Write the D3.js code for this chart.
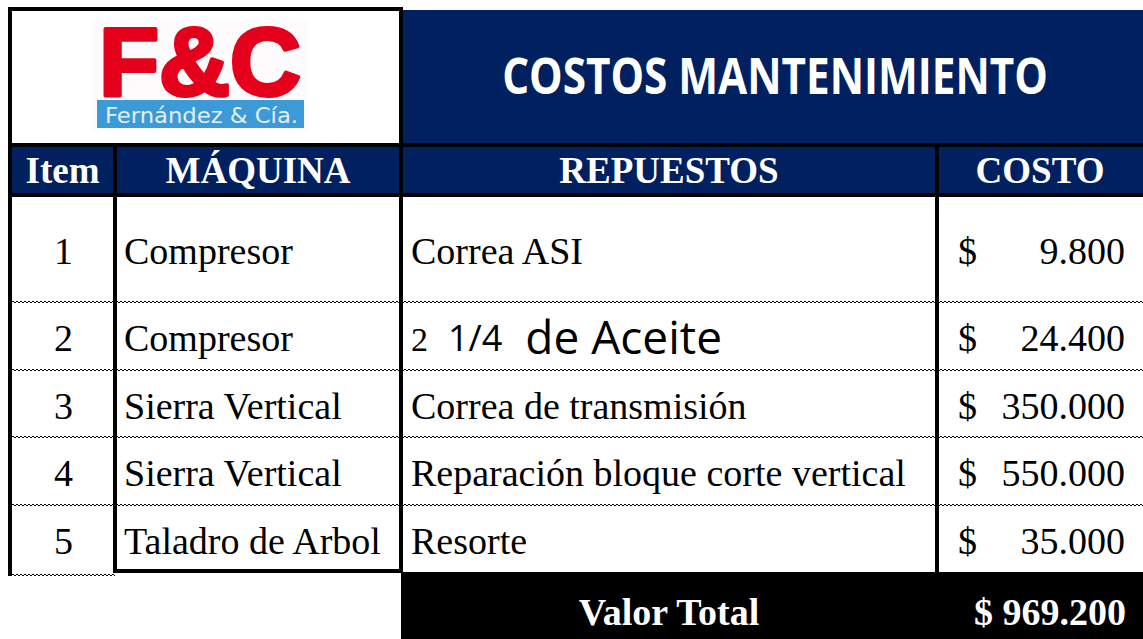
<!DOCTYPE html>
<html><head><meta charset="utf-8">
<script src="https://cdn.jsdelivr.net/npm/d3@7"></script>
<style>html,body{margin:0;padding:0;background:#fff;overflow:hidden}</style>
</head><body>
<svg id="c" width="1143" height="639"></svg>
<script>
// ---- data ----
const title = "COSTOS MANTENIMIENTO";
const logoMain = "F&C";
const logoSub = "Fernández & Cía.";
const headers = ["Item", "MÁQUINA", "REPUESTOS", "COSTO"];
const items = [1, 2, 3, 4, 5];
const machines = ["Compresor", "Compresor", "Sierra Vertical", "Sierra Vertical", "Taladro de Arbol"];
const parts = ["Correa ASI", "2 1/4 de Aceite", "Correa de transmisión", "Reparación bloque corte vertical", "Resorte"];
const costs = [9800, 24400, 350000, 550000, 35000];
const totalLabel = "Valor Total";

// ---- layout ----
const W = 1143, H = 639;
const BLUE = "#002060";
const colEdges = [10, 115, 401, 937, 1143];
const rowHeights = [107, 68, 67, 68, 67];
const bodyTop = 195;

const locale = d3.formatLocale({decimal: ",", thousands: ".", grouping: [3], currency: ["$", ""]});
const fmt = locale.format(",d");
const total = d3.sum(costs);

// row scale: index -> top edge
const rowTops = rowHeights.reduce((a, h, i) => { a.push(a[i] + h); return a; }, [bodyTop]);
const yTop = d3.scaleOrdinal().domain(d3.range(rowTops.length)).range(rowTops);
const xCol = d3.scaleOrdinal().domain(d3.range(colEdges.length)).range(colEdges);
const bodyBottom = yTop(items.length);

const svg = d3.select("#c");
svg.append("rect").attr("width", W).attr("height", H).attr("fill", "#fff");

// title block
svg.append("rect").attr("x", xCol(2)).attr("y", 10).attr("width", W - xCol(2)).attr("height", 135).attr("fill", BLUE);
svg.append("text").text(title)
  .attr("transform", `translate(${(xCol(2) + W) / 2 + 3},94) scale(0.845,1)`)
  .attr("text-anchor", "middle")
  .attr("font-family", "'Open Sans', sans-serif").attr("font-weight", 700).attr("font-size", 50)
  .attr("fill", "#fff");

// header row
svg.append("rect").attr("x", xCol(0)).attr("y", 145).attr("width", W - xCol(0)).attr("height", 50).attr("fill", BLUE);
// total row
svg.append("rect").attr("x", xCol(2)).attr("y", bodyBottom).attr("width", W - xCol(2)).attr("height", H - bodyBottom).attr("fill", "#000");

// logo
svg.append("rect").attr("x", 92).attr("y", 20).attr("width", 216).attr("height", 113).attr("fill", "#fdfbfb");
svg.append("rect").attr("x", 97).attr("y", 100).attr("width", 207).attr("height", 28).attr("fill", "#3c9ad6");
svg.append("text").text(logoMain)
  .attr("x", 99).attr("y", 95)
  .attr("font-family", "'Liberation Sans', Arial, sans-serif").attr("font-weight", 700).attr("font-size", 96)
  .attr("textLength", 202).attr("lengthAdjust", "spacingAndGlyphs")
  .attr("fill", "#e4001b").attr("stroke", "#e4001b").attr("stroke-width", 4).attr("stroke-linejoin", "round");
svg.append("text").text(logoSub)
  .attr("x", 105).attr("y", 123)
  .attr("font-family", "'DejaVu Sans', sans-serif").attr("font-size", 22)
  .attr("textLength", 193).attr("lengthAdjust", "spacingAndGlyphs")
  .attr("fill", "#e3eff8");

// dotted separators
const dotted = (x1, x2, y) => {
  [[y - 0.5, 0], [y + 0.5, 2]].forEach(([yy, off]) => {
    svg.append("line").attr("x1", x1).attr("x2", x2).attr("y1", yy).attr("y2", yy)
      .attr("stroke", "#000").attr("stroke-width", 1)
      .attr("stroke-dasharray", "2,2").attr("stroke-dashoffset", off)
      .attr("shape-rendering", "crispEdges");
  });
};
d3.range(1, items.length).forEach(i => dotted(8, W, yTop(i)));
dotted(8, xCol(1), bodyBottom + 3);

// solid lines
const solid = (x1, y1, x2, y2, w) => svg.append("line")
  .attr("x1", x1).attr("y1", y1).attr("x2", x2).attr("y2", y2)
  .attr("stroke", "#000").attr("stroke-width", w || 4);
solid(8, 145, W, 145);
solid(8, 195, W, 195);
solid(xCol(1) - 2, bodyBottom - 1, xCol(2) + 2, bodyBottom - 1);
svg.append("rect").attr("x", 10).attr("y", 9).attr("width", xCol(2) - 10).attr("height", 136)
  .attr("fill", "none").attr("stroke", "#000").attr("stroke-width", 4);
solid(xCol(0), 7, xCol(0), bodyBottom + 4);
solid(xCol(1), 145, xCol(1), bodyBottom + 1);
solid(xCol(2), 7, xCol(2), bodyBottom);
solid(xCol(3), 145, xCol(3), bodyBottom);

// header text
svg.selectAll("text.hdr").data(headers).join("text").attr("class", "hdr")
  .text(d => d)
  .attr("x", (d, i) => (xCol(i) + xCol(i + 1)) / 2)
  .attr("y", 183)
  .attr("text-anchor", "middle")
  .attr("font-family", "'Liberation Serif', 'Times New Roman', serif").attr("font-weight", 700).attr("font-size", 37)
  .attr("fill", "#fff");

// body
const SERIF = "'Liberation Serif', 'Times New Roman', serif";
const baseY = i => (yTop(i) + yTop(i + 1)) / 2 + 15;
const body = svg.append("g").attr("font-family", SERIF).attr("font-size", 38).attr("fill", "#000");

body.selectAll("text.item").data(items).join("text").attr("class", "item")
  .text(d => d).attr("text-anchor", "middle")
  .attr("x", (xCol(0) + xCol(1)) / 2 + 1).attr("y", (d, i) => baseY(i));

body.selectAll("text.mach").data(machines).join("text").attr("class", "mach")
  .text(d => d).attr("x", xCol(1) + 9).attr("y", (d, i) => baseY(i));

body.selectAll("text.part").data(parts).join("text").attr("class", "part")
  .attr("x", xCol(2) + 10).attr("y", (d, i) => baseY(i))
  .each(function (d) {
    const t = d3.select(this);
    const m = d.match(/^(\d) (\d\/\d) (.*)$/);
    if (m) {
      t.append("tspan").text(m[1]).attr("font-size", 34);
      t.append("tspan").text(m[2]).attr("dx", 20).attr("font-family", "'Open Sans', sans-serif").attr("font-size", 36);
      t.append("tspan").text(" " + m[3]).attr("font-family", "'Open Sans', sans-serif").attr("font-size", 46).attr("dx", 11).attr("dy", 3);
    } else {
      t.text(d);
    }
  });

body.selectAll("text.cur").data(costs).join("text").attr("class", "cur")
  .text("$").attr("x", xCol(3) + 21).attr("y", (d, i) => baseY(i));
body.selectAll("text.cost").data(costs).join("text").attr("class", "cost")
  .text(d => fmt(d)).attr("text-anchor", "end")
  .attr("x", W - 18).attr("y", (d, i) => baseY(i));

// total
svg.append("text").text(totalLabel)
  .attr("x", (xCol(2) + xCol(3)) / 2).attr("y", 625).attr("text-anchor", "middle")
  .attr("font-family", SERIF).attr("font-weight", 700).attr("font-size", 38).attr("fill", "#fff");
svg.append("text").text("$ " + fmt(total))
  .attr("x", W - 17).attr("y", 625).attr("text-anchor", "end")
  .attr("font-family", SERIF).attr("font-weight", 700).attr("font-size", 38).attr("fill", "#fff");
</script>
</body></html>
